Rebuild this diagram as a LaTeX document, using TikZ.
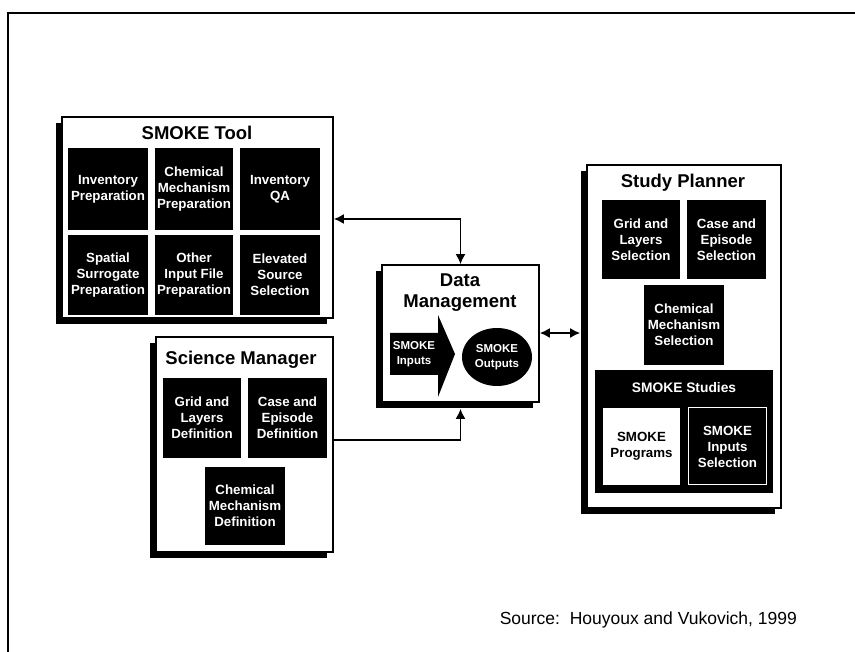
\documentclass[tikz,border=0pt]{standalone}
\usepackage{fontspec}
\setmainfont{Liberation Sans}
\usetikzlibrary{shadows,shapes.geometric,arrows.meta}
\begin{document}
\begin{tikzpicture}[x=1pt,y=-1pt,
  panel/.style={draw, fill=white, line width=1.6pt, inner sep=0,
    drop shadow={shadow xshift=-6pt, shadow yshift=-6pt, fill=black, opacity=1}},
  ptitle/.style={font=\bfseries\fontsize{18.5}{21}\selectfont, align=center, inner sep=0},
  blk/.style={fill=black, text=white, inner sep=0, align=center,
    font=\bfseries\fontsize{13.3}{16}\selectfont},
  conn/.style={line width=1.8pt, {Latex[length=10pt,width=10pt]}-{Latex[length=10pt,width=10pt]}},
  conn1/.style={line width=1.8pt, -{Latex[length=10pt,width=10pt]}}]
\useasboundingbox (0,0) rectangle (855,652);
% outer frame
\draw[line width=1.8pt] (8,652) -- (8,13) -- (855,13);

% SMOKE Tool
\node[panel, minimum width=271, minimum height=201] (st) at (197.5,217.5) {};
\node[ptitle] (stt) at (197,133) {SMOKE Tool};
\node[blk, minimum width=80, minimum height=82] (st1) at (108,189) {Inventory\\Preparation};
\node[blk, minimum width=78, minimum height=82] (st2) at (194,189) {Chemical\\Mechanism\\Preparation};
\node[blk, minimum width=80, minimum height=82] (st3) at (280,189) {Inventory\\QA};
\node[blk, minimum width=80, minimum height=80] (st4) at (108,275) {Spatial\\Surrogate\\Preparation};
\node[blk, minimum width=78, minimum height=80] (st5) at (194,275) {Other\\Input File\\Preparation};
\node[blk, minimum width=80, minimum height=80] (st6) at (280,275) {Elevated\\Source\\Selection};

% Science Manager
\node[panel, minimum width=177, minimum height=215] (sm) at (244.5,444.5) {};
\node[ptitle] (smt) at (241,360) {Science Manager};
\node[blk, minimum width=78, minimum height=80] (sm1) at (202,418) {Grid and\\Layers\\Definition};
\node[blk, minimum width=79, minimum height=80] (sm2) at (287.5,418) {Case and\\Episode\\Definition};
\node[blk, minimum width=80, minimum height=78] (sm3) at (245,506) {Chemical\\Mechanism\\Definition};

% Data Management
\node[panel, minimum width=157, minimum height=137] (dm) at (460.5,333.5) {};
\node[ptitle] (dmt) at (460,293) {Data\\Management};
\fill (390,333) -- (438,333) -- (438,315) -- (455,354) -- (438,397) -- (438,375) -- (390,375) -- cycle;
\node[blk, fill=none, font=\bfseries\fontsize{11.5}{15}\selectfont] (dmi) at (414,354) {SMOKE\\Inputs};
\node[blk, ellipse, minimum width=70, minimum height=58, font=\bfseries\fontsize{11.5}{15}\selectfont] (dmo) at (497,357) {SMOKE\\Outputs};

% Study Planner
\node[panel, minimum width=194, minimum height=343] (sp) at (684,336.5) {};
\node[ptitle] (spt) at (683,183) {Study Planner};
\node[blk, minimum width=78, minimum height=79] (sp1) at (641,239.5) {Grid and\\Layers\\Selection};
\node[blk, minimum width=79, minimum height=79] (sp2) at (726.5,239.5) {Case and\\Episode\\Selection};
\node[blk, minimum width=80, minimum height=80] (sp3) at (684,325) {Chemical\\Mechanism\\Selection};
\node[blk, minimum width=178, minimum height=123] (ss) at (684,431.5) {};
\node[blk, font=\bfseries\fontsize{13.8}{16}\selectfont] (sst) at (684,388) {SMOKE Studies};
\node[blk, fill=white, text=black, minimum width=77, minimum height=77] (ss1) at (641.5,446.5) {SMOKE\\Programs};
\node[blk, draw=white, line width=1pt, minimum width=78, minimum height=77] (ss2) at (727.5,446.5) {SMOKE\\Inputs\\Selection};

% connectors
\coordinate (dmb) at ([yshift=-6pt]dm.south);
\coordinate (spl) at ([xshift=-6pt]sp.west);
\draw[conn] (st.east |- 0,219) -| (dm.north);
\draw[conn1] (sm.east |- 0,440) -| (dmb);
\draw[conn] (dm.east |- 0,333) -- (spl |- 0,333);

% source
\node[anchor=east, inner sep=0, font=\fontsize{17.5}{20}\selectfont] (src) at (797,620) {Source:\ \ Houyoux and Vukovich, 1999};
\end{tikzpicture}
\end{document}
